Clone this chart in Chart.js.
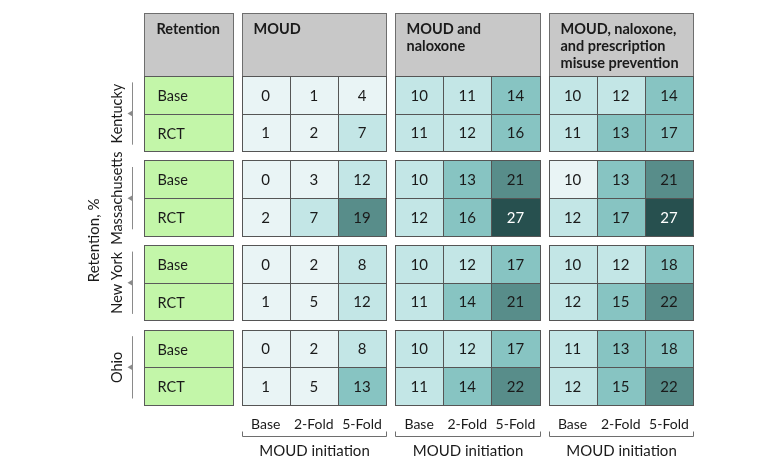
<!DOCTYPE html>
<html lang="en">
<head>
  <meta charset="UTF-8">
  <script src="https://cdn.jsdelivr.net/npm/chart.js@4.4.1/dist/chart.umd.min.js"></script>
  <style>
    * { margin: 0; padding: 0; box-sizing: border-box; }
    body { background: #fff; }
  </style>
  <title>Retention by state and intervention</title>
</head>
<body>
  <canvas id="myChart" width="780" height="470"></canvas>

<script>
  var states = ["Kentucky", "Massachusetts", "New York", "Ohio"];
  var rowLabels = ["Base", "RCT"];
  var cornerTitle = "Retention";
  var yTitle = "Retention, %";
  var groupTitles = [
    ["MOUD"],
    ["MOUD and", "naloxone"],
    ["MOUD, naloxone,", "and prescription", "misuse prevention"]
  ];
  var foldLabels = ["Base", "2-Fold", "5-Fold"];
  var xTitle = "MOUD initiation";

  // rows: KY Base, KY RCT, MA Base, MA RCT, NY Base, NY RCT, OH Base, OH RCT
  var moud = [[0, 1, 4], [1, 2, 7], [0, 3, 12], [2, 7, 19], [0, 2, 8], [1, 5, 12], [0, 2, 8], [1, 5, 13]];
  var moudNaloxone = [[10, 11, 14], [11, 12, 16], [10, 13, 21], [12, 16, 27], [10, 12, 17], [11, 14, 21], [10, 12, 17], [11, 14, 22]];
  var moudNaloxoneRx = [[10, 12, 14], [11, 13, 17], [10, 13, 21], [12, 17, 27], [10, 12, 18], [12, 15, 22], [11, 13, 18], [12, 15, 22]];

  // shading bin of each cell (0 = lightest ... 4 = darkest)
  var moudBins = [[0, 0, 0], [0, 0, 1], [0, 0, 1], [0, 1, 3], [0, 0, 1], [0, 0, 1], [0, 0, 1], [0, 0, 2]];
  var moudNaloxoneBins = [[1, 1, 2], [1, 1, 2], [1, 2, 3], [1, 2, 4], [1, 1, 2], [1, 2, 3], [1, 1, 2], [1, 2, 3]];
  var moudNaloxoneRxBins = [[1, 1, 2], [1, 2, 2], [0, 2, 3], [1, 2, 4], [1, 1, 2], [1, 2, 3], [1, 2, 2], [1, 2, 3]];

  var groups = [moud, moudNaloxone, moudNaloxoneRx];
  var groupBins = [moudBins, moudNaloxoneBins, moudNaloxoneRxBins];

  var shades = ["#e9f4f5", "#c3e6e6", "#87c4c2", "#588d8a", "#27504f"];
  var FONT = "Lato, 'Liberation Sans', sans-serif";

  // layout in table units (one data cell = 1 x 1)
  var LABEL_W = 1.84, GAP_X = 0.186, HEAD_H = 1.67, GAP_Y = 0.247;
  var X_MAX = LABEL_W + 3 * (3 + GAP_X);
  var Y_MAX = HEAD_H + states.length * 2 + (states.length - 1) * GAP_Y;

  function colX(g, c) { return LABEL_W + GAP_X + g * (3 + GAP_X) + c; }
  function rowY(r) { return HEAD_H + Math.floor(r / 2) * (2 + GAP_Y) + (r % 2); }

  // one point per cell at its centre
  var points = [];
  groups.forEach(function (rows, g) {
    rows.forEach(function (vals, r) {
      vals.forEach(function (v, c) {
        points.push({ x: colX(g, c) + 0.5, y: rowY(r) + 0.5, v: v, bin: groupBins[g][r][c] });
      });
    });
  });

  var tablePlugin = {
    id: 'table',
    beforeDatasetsDraw: function (chart) {
      var ctx = chart.ctx, xs = chart.scales.x, ys = chart.scales.y, area = chart.chartArea;
      var px = function (v) { return Math.round(xs.getPixelForValue(v)) + 0.5; };
      var py = function (v) { return Math.round(ys.getPixelForValue(v)) + 0.5; };

      function box(x0, y0, x1, y1, fill, stroke) {
        var a = px(x0), b = py(y0), w = px(x1) - a, h = py(y1) - b;
        ctx.fillStyle = fill;
        ctx.fillRect(a, b, w, h);
        ctx.strokeStyle = stroke;
        ctx.lineWidth = 1;
        ctx.strokeRect(a, b, w, h);
      }

      ctx.save();
      ctx.textBaseline = 'middle';

      // header row
      box(0, 0, LABEL_W, HEAD_H, "#c8c8c8", "#6e6e6e");
      ctx.fillStyle = "#1a1a1a";
      ctx.font = "bold 14.5px " + FONT;
      ctx.textAlign = 'left';
      ctx.fillText(cornerTitle, px(0) + 12, py(0) + 16);
      groupTitles.forEach(function (lines, g) {
        box(colX(g, 0), 0, colX(g, 3), HEAD_H, "#c8c8c8", "#6e6e6e");
        ctx.fillStyle = "#1a1a1a";
        lines.forEach(function (t, i) {
          ctx.fillText(t, px(colX(g, 0)) + 11, py(0) + 16 + i * 16.7);
        });
      });

      // row labels (green)
      for (var r = 0; r < states.length * 2; r++) {
        box(0, rowY(r), LABEL_W, rowY(r) + 1, "#c3f6a9", "#5a5a5a");
        ctx.fillStyle = "#1a1a1a";
        ctx.font = "14.5px " + FONT;
        ctx.textAlign = 'left';
        ctx.fillText(rowLabels[r % 2], px(0) + 13, (py(rowY(r)) + py(rowY(r) + 1)) / 2 + 1);
      }

      // data cells
      points.forEach(function (p) {
        box(p.x - 0.5, p.y - 0.5, p.x + 0.5, p.y + 0.5, shades[p.bin], "#555555");
        ctx.fillStyle = p.bin === 4 ? "#ffffff" : "#1a1a1a";
        ctx.font = "15px " + FONT;
        ctx.textAlign = 'center';
        ctx.fillText(String(p.v), xs.getPixelForValue(p.x), ys.getPixelForValue(p.y) + 1);
      });

      // state labels with bracket line and arrow
      states.forEach(function (s, i) {
        var top = ys.getPixelForValue(rowY(i * 2)), bot = ys.getPixelForValue(rowY(i * 2) + 2);
        var mid = (top + bot) / 2, lx = Math.round(area.left - 12) + 0.5;
        ctx.strokeStyle = "#8a8a8a";
        ctx.lineWidth = 1;
        ctx.beginPath();
        ctx.moveTo(lx, top + 6.5);
        ctx.lineTo(lx, bot - 6.5);
        ctx.stroke();
        ctx.fillStyle = "#8a8a8a";
        ctx.beginPath();
        ctx.moveTo(lx - 5, mid);
        ctx.lineTo(lx, mid - 3);
        ctx.lineTo(lx, mid + 3);
        ctx.closePath();
        ctx.fill();

        ctx.save();
        ctx.translate(area.left - 27, mid);
        ctx.rotate(-Math.PI / 2);
        ctx.fillStyle = "#1a1a1a";
        ctx.font = "14.5px " + FONT;
        ctx.textAlign = 'center';
        ctx.fillText(s, 0, 0);
        ctx.restore();
      });

      // y title
      ctx.save();
      ctx.translate(area.left - 50, (ys.getPixelForValue(HEAD_H) + area.bottom) / 2);
      ctx.rotate(-Math.PI / 2);
      ctx.fillStyle = "#1a1a1a";
      ctx.font = "15px " + FONT;
      ctx.textAlign = 'center';
      ctx.fillText(yTitle, 0, 0);
      ctx.restore();

      // x ticks, brackets, titles
      groups.forEach(function (rows, g) {
        ctx.fillStyle = "#1a1a1a";
        ctx.font = "14px " + FONT;
        ctx.textAlign = 'center';
        foldLabels.forEach(function (t, c) {
          ctx.fillText(t, xs.getPixelForValue(colX(g, c) + 0.5), area.bottom + 19);
        });
        var a = px(colX(g, 0)), b = px(colX(g, 3)), by = Math.round(area.bottom + 31) + 0.5;
        ctx.strokeStyle = "#6e6e6e";
        ctx.beginPath();
        ctx.moveTo(a, by - 5);
        ctx.lineTo(a, by);
        ctx.lineTo(b, by);
        ctx.lineTo(b, by - 5);
        ctx.stroke();
        ctx.font = "15px " + FONT;
        ctx.fillText(xTitle, (a + b) / 2, area.bottom + 46);
      });

      ctx.restore();
    }
  };

  var myChart = new Chart(document.getElementById('myChart'), {
    type: 'scatter',
    data: {
      datasets: [{ data: points, pointRadius: 0, pointHoverRadius: 0 }]
    },
    options: {
      responsive: false,
      animation: false,
      layout: { padding: { left: 144, right: 87, top: 13, bottom: 65 } },
      scales: {
        x: { display: false, min: 0, max: X_MAX },
        y: { display: false, min: 0, max: Y_MAX, reverse: true }
      },
      plugins: { legend: { display: false }, tooltip: { enabled: false } },
      events: []
    },
    plugins: [tablePlugin]
  });
</script>
</body>
</html>
